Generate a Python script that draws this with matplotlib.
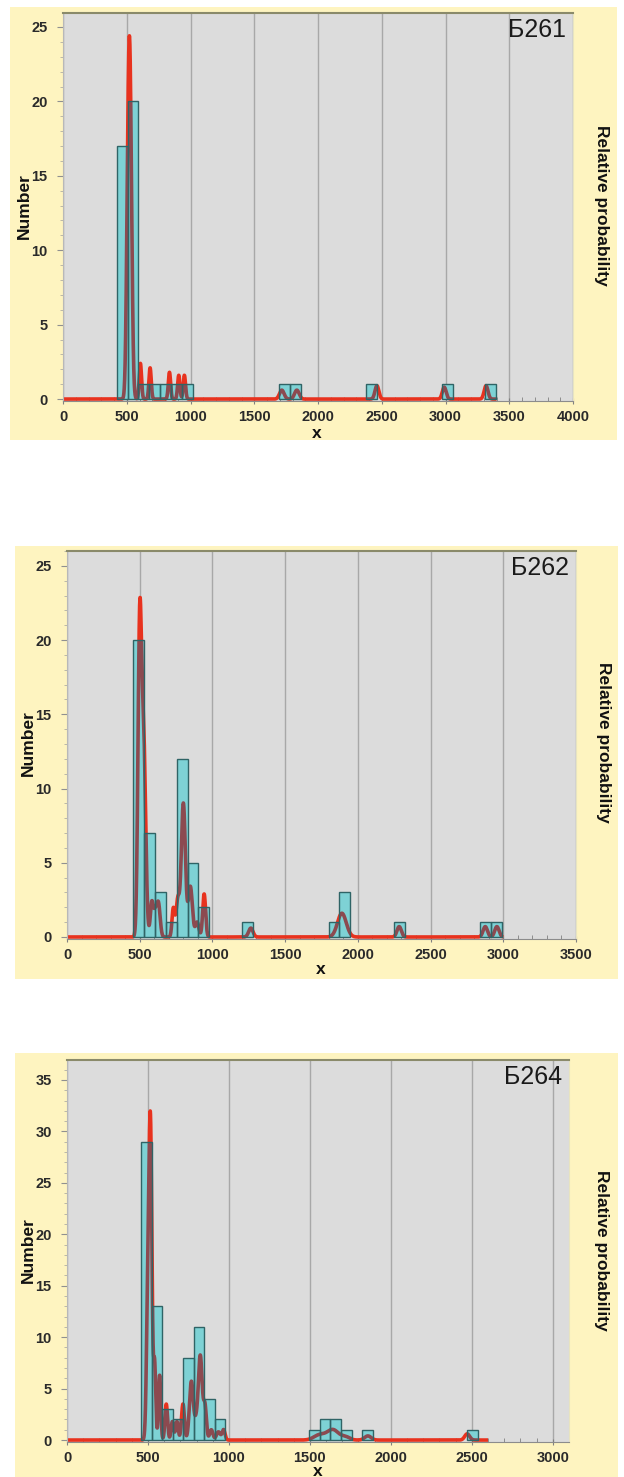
import numpy as np
import matplotlib
matplotlib.use("Agg")
import matplotlib.pyplot as plt
from matplotlib.patches import Rectangle
from matplotlib.ticker import MultipleLocator

plt.rcParams['font.family'] = ['Liberation Sans', 'DejaVu Sans']

# ---------------- data ----------------
# Panel Б261
b261_bin_left = [421, 506, 591, 676, 761, 846, 931, 1696, 1781, 2376, 2971, 3311]
b261_counts = [17, 20, 1, 1, 1, 1, 1, 1, 1, 1, 1, 1]
b261_bin_width = 85
b261_peak_age = [508, 525, 607, 683, 835, 908, 952, 1716, 1834, 2462, 2990, 3318]
b261_peak_height = [8.5, 20.5, 2.4, 2.1, 1.8, 1.6, 1.6, 0.6, 0.6, 0.9, 0.8, 0.9]
b261_peak_sigma = [12, 14, 9, 9, 9, 9, 9, 18, 18, 15, 15, 15]
b261_curve_end = 3400
b261_xticks = [0, 500, 1000, 1500, 2000, 2500, 3000, 3500, 4000]
b261_yticks = [0, 5, 10, 15, 20, 25]

# Panel Б262
b262_bin_left = [456, 530.6, 605.2, 679.8, 754.4, 829, 903.6, 1202, 1798.8, 1873.4, 2246.4, 2843.2, 2917.8]
b262_counts = [20, 7, 3, 1, 12, 5, 2, 1, 1, 3, 1, 1, 1]
b262_bin_width = 74.6
b262_peak_age = [500, 527, 583, 605, 628, 731, 762, 800, 848, 895, 943, 1264, 1890, 2284, 2876, 2956]
b262_peak_height = [20.5, 13, 2.3, 1.4, 2.3, 1.9, 2.5, 9.0, 3.4, 1.0, 2.9, 0.6, 1.6, 0.7, 0.7, 0.7]
b262_peak_sigma = [12, 14, 10, 10, 12, 9, 12, 14, 14, 12, 10, 15, 30, 15, 15, 15]
b262_curve_end = 3000
b262_xticks = [0, 500, 1000, 1500, 2000, 2500, 3000, 3500]
b262_yticks = [0, 5, 10, 15, 20, 25]

# Panel Б264
b264_bin_left = [457, 522, 587, 652, 717, 782, 847, 912, 1497, 1562, 1627, 1692, 1822, 2472]
b264_counts = [29, 13, 3, 2, 8, 11, 4, 2, 1, 2, 2, 1, 1, 1]
b264_bin_width = 65
b264_peak_age = [500, 516, 541, 572, 613, 651, 679, 716, 768, 797, 823, 852, 891, 935, 967,
                 1560, 1642, 1720, 1858, 2471]
b264_peak_height = [14, 28.5, 7.3, 6.3, 3.5, 1.8, 1.8, 3.5, 5.7, 1.5, 8.2, 3.2, 1.0, 0.8, 1.0,
                    0.5, 1.0, 0.3, 0.4, 0.6]
b264_peak_sigma = [9, 9, 7, 7, 8, 8, 8, 9, 12, 10, 12, 9, 10, 12, 9, 35, 35, 25, 20, 15]
b264_curve_end = 2600
b264_xticks = [0, 500, 1000, 1500, 2000, 2500, 3000]
b264_yticks = [0, 5, 10, 15, 20, 25, 30, 35]

panel_names = ['Б261', 'Б262', 'Б264']

# ---------------- styling / layout ----------------
W, H = 624, 1477
YELLOW = '#fef4c0'
AXBG = '#dcdcdc'
CYAN = '#7ed2d5'
EDGE = '#2f6466'
RED = '#e8321e'
BROWN = '#8c4a50'
GRID = '#a8a8a8'
TXT = '#2a2a2a'

layout = [
    dict(bg=(10, 7, 617, 440), ax=(63, 13, 573, 401), xlim=(0, 4000), ylim=(-0.13, 25.94),
         num=(24, 206), xl=(317, 433), rp=(602, 205)),
    dict(bg=(15, 546, 618, 979), ax=(67, 551, 576, 939), xlim=(0, 3500), ylim=(-0.135, 26.0),
         num=(28, 743), xl=(321, 970), rp=(603, 742)),
    dict(bg=(15, 1053, 618, 1477), ax=(67, 1060, 569, 1442), xlim=(0, 3100), ylim=(-0.19, 36.94),
         num=(28, 1250), xl=(318, 1472), rp=(602, 1250)),
]

panels = [
    (b261_bin_left, b261_counts, b261_bin_width, b261_peak_age, b261_peak_height, b261_peak_sigma,
     b261_curve_end, b261_xticks, b261_yticks),
    (b262_bin_left, b262_counts, b262_bin_width, b262_peak_age, b262_peak_height, b262_peak_sigma,
     b262_curve_end, b262_xticks, b262_yticks),
    (b264_bin_left, b264_counts, b264_bin_width, b264_peak_age, b264_peak_height, b264_peak_sigma,
     b264_curve_end, b264_xticks, b264_yticks),
]

fig = plt.figure(figsize=(W / 100, H / 100), dpi=100)
fig.patch.set_facecolor('white')


def fig_rect(l, t, r, b):
    return [l / W, 1 - b / H, (r - l) / W, (b - t) / H]


for name, lay, pdata in zip(panel_names, layout, panels):
    lefts, counts, bw, ages, heights, sigmas, cend, xticks, yticks = pdata
    # yellow background
    l, t, r, b = lay['bg']
    fig.patches.append(Rectangle((l / W, 1 - b / H), (r - l) / W, (b - t) / H,
                                 transform=fig.transFigure, facecolor=YELLOW,
                                 edgecolor='none', zorder=-10))
    ax = fig.add_axes(fig_rect(*lay['ax']))
    ax.set_zorder(1)
    ax.set_facecolor(AXBG)
    ax.set_xlim(*lay['xlim'])
    ax.set_ylim(*lay['ylim'])
    ax.set_axisbelow(True)
    ax.grid(axis='x', color=GRID, lw=1.0)
    ax.grid(axis='y', visible=False)

    # probability curve
    xs = np.linspace(0, cend, 5000)
    ys = np.zeros_like(xs)
    for a, h, s in zip(ages, heights, sigmas):
        ys += h * np.exp(-0.5 * ((xs - a) / s) ** 2)
    ax.plot(xs, ys, color=RED, lw=2.6, zorder=2.5, solid_capstyle='butt')

    # histogram (fill)
    bars = ax.bar(lefts, counts, width=bw, align='edge', color=CYAN, edgecolor='none',
                  linewidth=0, zorder=3)
    for patch in bars.patches:
        ln, = ax.plot(xs, ys, color=BROWN, lw=2.6, zorder=4)
        ln.set_clip_path(patch)
    ax.bar(lefts, counts, width=bw, align='edge', fill=False, edgecolor=EDGE,
           linewidth=1.0, zorder=5)

    # ticks
    ax.set_xticks(xticks)
    ax.set_yticks(yticks)
    ax.xaxis.set_minor_locator(MultipleLocator(100))
    ax.yaxis.set_minor_locator(MultipleLocator(1))
    ax.tick_params(axis='x', which='major', direction='inout', length=5, width=0.8,
                   color='#808080', pad=4, labelsize=10.5, labelcolor=TXT)
    ax.tick_params(axis='x', which='minor', direction='in', length=3, width=0.6, color='#808080')
    ax.tick_params(axis='y', which='major', direction='out', length=4, width=0.8,
                   color='#909090', pad=7, labelsize=10.5, labelcolor=TXT)
    ax.tick_params(axis='y', which='minor', direction='out', length=2, width=0.5, color='#a0a0a0')
    for lab in ax.get_xticklabels() + ax.get_yticklabels():
        lab.set_fontweight('bold')

    ax.spines['top'].set_color('#8a8a6a')
    ax.spines['top'].set_linewidth(1.5)
    ax.spines['bottom'].set_color('#8c8c8c')
    ax.spines['left'].set_color('#b8b8b8')
    ax.spines['right'].set_color('#e8e4c0')

    ax.text(0.987, 0.988, name, transform=ax.transAxes, ha='right', va='top',
            fontsize=18, color='#1a1a1a', zorder=10)

    # axis labels
    nx, ny = lay['num']
    fig.text(nx / W, 1 - ny / H, 'Number', rotation=90, ha='center', va='center',
             fontsize=12.5, fontweight='bold', color='#111111')
    xx, xy = lay['xl']
    fig.text(xx / W, 1 - xy / H, 'x', ha='center', va='center',
             fontsize=12.5, fontweight='bold', color='#111111')
    rx, ry = lay['rp']
    fig.text(rx / W, 1 - ry / H, 'Relative probability', rotation=270, ha='center', va='center',
             fontsize=12.5, fontweight='bold', color='#111111')

fig.savefig('out.png', dpi=100, facecolor='white')
